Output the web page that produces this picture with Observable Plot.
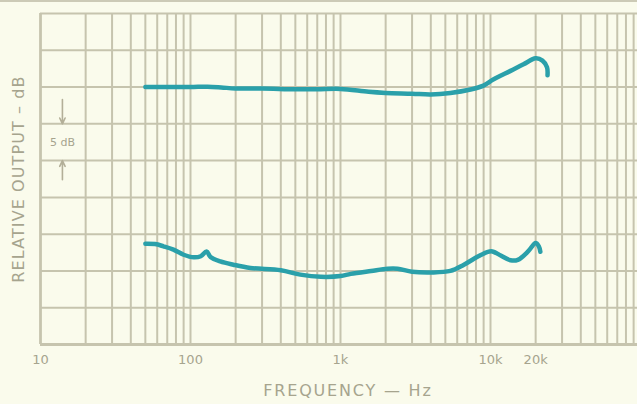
<!DOCTYPE html>
<html>
<head>
<meta charset="utf-8">
<script src="https://cdn.jsdelivr.net/npm/d3@7"></script>
<script src="https://cdn.jsdelivr.net/npm/@observablehq/plot@0.6"></script>
<style>
  html, body { margin: 0; padding: 0; background: #fafbec; }
  #wrap { position: relative; width: 637px; height: 404px; overflow: hidden; }
  #topline { position: absolute; left: 0; top: 0; width: 637px; height: 2px; background: #cccab6; }
</style>
</head>
<body>
<div id="wrap"><div id="topline"></div><div id="chart"></div></div>
<script>
// Upper response curve (Hz, dB)
const upperFreq = [50, 70, 100, 130, 160, 200, 300, 500, 700, 1000, 1540, 2000, 3000, 4000, 5400, 7360, 8980, 10500, 13600, 16600, 20000, 22200, 23800, 24000];
const upperDb   = [35.0, 35.0, 35.0, 35.05, 34.95, 34.8, 34.8, 34.7, 34.7, 34.75, 34.35, 34.2, 34.1, 34.0, 34.2, 34.67, 35.2, 36.05, 37.2, 38.1, 38.9, 38.6, 37.7, 36.6];

// Lower response curve (Hz, dB)
const lowerFreq = [50, 58, 66, 77, 90, 105, 117, 128, 136, 158, 193, 251, 400, 540, 740, 1000, 1170, 1600, 2060, 2400, 3000, 4000, 5400, 6650, 8300, 9600, 10300, 11700, 13600, 15200, 17800, 20000, 21000, 21500];
const lowerDb   = [13.7, 13.65, 13.35, 12.9, 12.2, 11.85, 12.0, 12.65, 11.9, 11.3, 10.85, 10.4, 10.1, 9.5, 9.2, 9.3, 9.6, 10.0, 10.3, 10.3, 9.9, 9.8, 10.0, 10.85, 12.0, 12.6, 12.65, 12.1, 11.45, 11.5, 12.65, 13.8, 13.35, 12.6];

// Axis tick labels
const tickFreqs  = [10, 100, 1000, 10000, 20000];
const tickLabels = ["10", "100", "1k", "10k", "20k"];

// Grid
const gridDecades = [10, 100, 1000, 10000];
const gridMultipliers = [1, 2, 3, 4, 5, 6, 7, 8, 9];
const dbLines = [0, 5, 10, 15, 20, 25, 30, 35, 40, 45];
const frameLines = {freq: [10], db: [0]};

// Scale annotation
const scaleNote = [{f: 14, db: 27.5, text: "5 dB"}];
const scaleArrows = [{f: 14, from: 33.3, to: 30}, {f: 14, from: 22.4, to: 25}];

const gridX = gridDecades.flatMap(d => gridMultipliers.map(m => d * m));
const upper = upperFreq.map((f, i) => ({f, db: upperDb[i]}));
const lower = lowerFreq.map((f, i) => ({f, db: lowerDb[i]}));

const gridColor = "#c6c4ae";
const textColor = "#a6a48e";
const curveColor = "#2aa0aa";

const chart = Plot.plot({
  width: 637,
  height: 404,
  marginLeft: 40,
  marginRight: 0,
  marginTop: 13,
  marginBottom: 60,
  style: {background: "transparent", fontFamily: "'DejaVu Sans', sans-serif"},
  x: {type: "log", domain: [10, 95500], axis: null},
  y: {domain: [0, 45], axis: null},
  marks: [
    Plot.ruleX(gridX, {stroke: gridColor, strokeWidth: 2}),
    Plot.ruleY(dbLines, {stroke: gridColor, strokeWidth: 2}),
    Plot.ruleX(frameLines.freq, {stroke: gridColor, strokeWidth: 2.6}),
    Plot.ruleY(frameLines.db, {stroke: gridColor, strokeWidth: 3}),
    Plot.arrow(scaleArrows, {x1: "f", x2: "f", y1: "from", y2: "to", stroke: "#b3af98", strokeWidth: 1.6, headLength: 6, headAngle: 50}),
    Plot.text(scaleNote, {x: "f", y: "db", text: "text", fill: textColor, fontSize: 11}),
    Plot.line(upper, {x: "f", y: "db", stroke: curveColor, strokeWidth: 4.5, curve: "catmull-rom", strokeLinecap: "round", strokeLinejoin: "round"}),
    Plot.line(lower, {x: "f", y: "db", stroke: curveColor, strokeWidth: 4.5, curve: "catmull-rom", strokeLinecap: "round", strokeLinejoin: "round"}),
    Plot.text(tickFreqs, {x: d => d, text: (d, i) => tickLabels[i], frameAnchor: "bottom", dy: 19, fill: textColor, fontSize: 13}),
    Plot.text(["FREQUENCY — Hz"], {frameAnchor: "bottom", textAnchor: "middle", dx: 9, dy: 51, fill: textColor, fontSize: 16}),
    Plot.text(["RELATIVE OUTPUT – dB"], {frameAnchor: "left", textAnchor: "middle", dx: -22, rotate: -90, fill: textColor, fontSize: 16})
  ]
});

const texts = d3.select(chart).selectAll("text");
texts.filter(function() { return this.textContent === "FREQUENCY — Hz"; }).attr("letter-spacing", "1.8px");
texts.filter(function() { return this.textContent === "RELATIVE OUTPUT – dB"; }).attr("letter-spacing", "1.1px");
document.getElementById("chart").appendChild(chart);
</script>
</body>
</html>
